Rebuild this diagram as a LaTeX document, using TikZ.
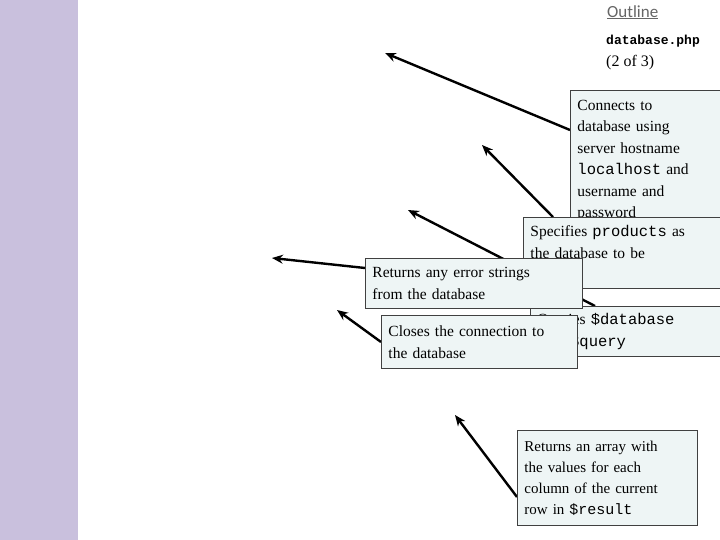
\documentclass[tikz,border=0pt]{standalone}
\usepackage{fontspec}
\setmainfont{Liberation Serif}
\setmonofont{Liberation Mono}
\newfontfamily\carl{Carlito}
\usetikzlibrary{arrows.meta,calc}
\definecolor{strip}{HTML}{C9C0DD}
\definecolor{boxfill}{HTML}{EEF5F5}
\definecolor{boxline}{HTML}{404040}
\tikzset{
 callout/.style={draw=boxline,line width=0.9pt,fill=boxfill,anchor=north west,rectangle,
   align=left,inner xsep=7pt,inner ysep=5pt,
   font=\fontsize{15.5}{21.5}\selectfont},
 arr/.style={line width=2.4pt,-{Stealth[length=11pt,width=9pt]}},
}
\begin{document}
\begin{tikzpicture}[x=1pt,y=-1pt]
\useasboundingbox (0,0) rectangle (720,540);
\clip (0,0) rectangle (720,540);
\fill[white] (0,0) rectangle (720,540);
\fill[strip] (0,0) rectangle (78,540);
\node[anchor=north west,inner sep=0pt,text=gray!80!black,font=\carl\fontsize{17}{20}\selectfont] (outl) at (607,5) {\underline{Outline}};
\node[anchor=north west,inner sep=0pt,font=\ttfamily\bfseries\fontsize{13}{15}\selectfont] (fname) at (606,35) {database.php};
\node[anchor=north west,inner sep=0pt,font=\fontsize{16}{18}\selectfont] (part) at (606,55) {(2 of 3)};
% arrow tips
\coordinate (t1) at (385,53);
\coordinate (t2) at (482,145);
\coordinate (t4) at (408,210);
\coordinate (t3) at (272,258);
\coordinate (t5) at (337,310);
\coordinate (t6) at (455,415);
% boxes (positioned first, arrows drawn beneath via layering order)
\node[callout,minimum width=152pt,minimum height=140pt,text width=138pt,anchor=north west] (b1) at (570,90) {};
\node[callout,minimum width=199pt,minimum height=71pt,text width=185pt] (b2) at (523,217) {};
\node[callout,minimum width=192pt,minimum height=50pt,text width=180pt] (b4) at (530,306) {};
\node[callout,minimum width=217pt,minimum height=50pt,text width=203pt] (b3) at (365,258) {};
\node[callout,minimum width=196pt,minimum height=53pt,text width=182pt] (b5) at (381,315) {};
\node[callout,minimum width=180pt,minimum height=95pt,text width=166pt] (b6) at (517,430) {};
% arrows
\draw[arr] ([yshift=-40pt]b1.north west) -- (t1);
\draw[arr] ([xshift=30pt]b2.north west) -- (t2);
\draw[arr] ([xshift=65pt]b4.north west) -- (t4);
\draw[arr] ([yshift=-10pt]b3.north west) -- (t3);
\draw[arr] ([yshift=-27pt]b5.north west) -- (t5);
\draw[arr] ([yshift=-67pt]b6.north west) -- (t6);
% redraw boxes with text on top
\node[callout,minimum width=152pt,minimum height=140pt,text width=138pt] at (570,90) {Connects to\\database using\\server hostname\\\texttt{localhost} and\\username and\\password};
\node[callout,minimum width=199pt,minimum height=71pt,text width=185pt] at (523,217) {Specifies \texttt{products} as\\the database to be\\used};
\node[callout,minimum width=192pt,minimum height=50pt,text width=180pt] at (530,306) {Queries \texttt{\$database}\\with \texttt{\$query}};
\node[callout,minimum width=217pt,minimum height=50pt,text width=203pt] at (365,258) {Returns any error strings\\from the database};
\node[callout,minimum width=196pt,minimum height=53pt,text width=182pt] at (381,315) {Closes the connection to\\the database};
\node[callout,minimum width=180pt,minimum height=95pt,text width=166pt,font=\fontsize{15}{21}\selectfont] at (517,430) {Returns an array with\\the values for each\\column of the current\\row in \texttt{\$result}};
\end{tikzpicture}
\end{document}
